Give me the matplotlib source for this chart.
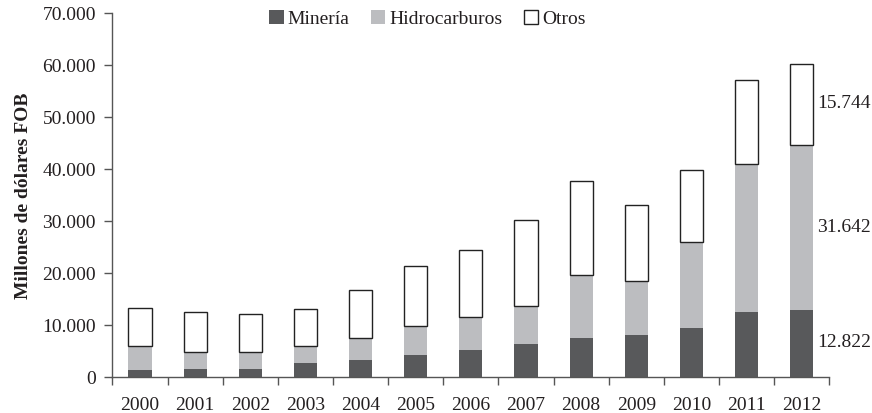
import matplotlib.pyplot as plt
import numpy as np

# datos (millones de dólares FOB)
years = ['2000', '2001', '2002', '2003', '2004', '2005', '2006',
         '2007', '2008', '2009', '2010', '2011', '2012']
mineria = [1220, 1475, 1475, 2630, 3270, 4230, 5130,
           6290, 7440, 8080, 9365, 12440, 12822]
hidrocarburos = [4680, 3335, 3335, 3270, 4230, 5580, 6420,
                 7370, 12190, 10330, 16545, 28480, 31642]
otros = [7250, 7570, 7190, 7185, 9240, 11420, 12890,
         16420, 18020, 14500, 13920, 16170, 15744]

plt.rcParams['font.family'] = ['Liberation Serif', 'DejaVu Serif']

fig, ax = plt.subplots(figsize=(8.72, 4.14), dpi=100)
fig.subplots_adjust(left=0.129, right=0.951, bottom=0.088, top=0.967)

x = np.arange(len(years))
w = 0.42
min_arr = np.array(mineria)
hid_arr = np.array(hidrocarburos)
otr_arr = np.array(otros)

ax.bar(x, min_arr, w, color='#58595b', label='Minería', zorder=2)
ax.bar(x, hid_arr, w, bottom=min_arr, color='#bcbdc0',
       label='Hidrocarburos', zorder=2)
ax.bar(x, otr_arr, w, bottom=min_arr + hid_arr, color='white',
       edgecolor='#222222', linewidth=1.0, label='Otros', zorder=2)

# etiquetas de 2012
i = len(years) - 1
segs = [(0, min_arr[i]), (min_arr[i], hid_arr[i]),
        (min_arr[i] + hid_arr[i], otr_arr[i])]
for base, val in segs:
    ax.text(i + 0.28, base + val / 2 + 300, f'{val:,}'.replace(',', '.'),
            ha='left', va='center', fontsize=14, color='#231f20',
            clip_on=False)

ax.set_xlim(-0.5, len(years) - 0.5)
ax.set_ylim(0, 70000)
ax.set_yticks(np.arange(0, 70001, 10000))
ax.set_yticklabels([f'{v:,}'.replace(',', '.') for v in range(0, 70001, 10000)])
ax.set_xticks(x)
ax.set_xticklabels(years)
ax.set_xticks(np.arange(-0.5, len(years)), minor=True)
ax.tick_params(axis='x', which='major', length=0, pad=14)
ax.tick_params(axis='x', which='minor', length=6, width=1, color='#555555')
ax.tick_params(axis='y', length=6, width=1, color='#555555', pad=6)
ax.tick_params(labelsize=14, labelcolor='#231f20')

ax.set_ylabel('Millones de dólares FOB', fontsize=14, fontweight='bold',
              color='#231f20', labelpad=7)

for s in ['top', 'right']:
    ax.spines[s].set_visible(False)
for s in ['left', 'bottom']:
    ax.spines[s].set_color('#555555')
    ax.spines[s].set_linewidth(1)

fig.legend(loc='center', bbox_to_anchor=(0.49, 0.953), ncol=3, frameon=False,
           fontsize=14, handlelength=0.75, handleheight=0.75,
           handletextpad=0.2, columnspacing=1.1, labelcolor='#231f20')

fig.savefig('out.png', dpi=100)
